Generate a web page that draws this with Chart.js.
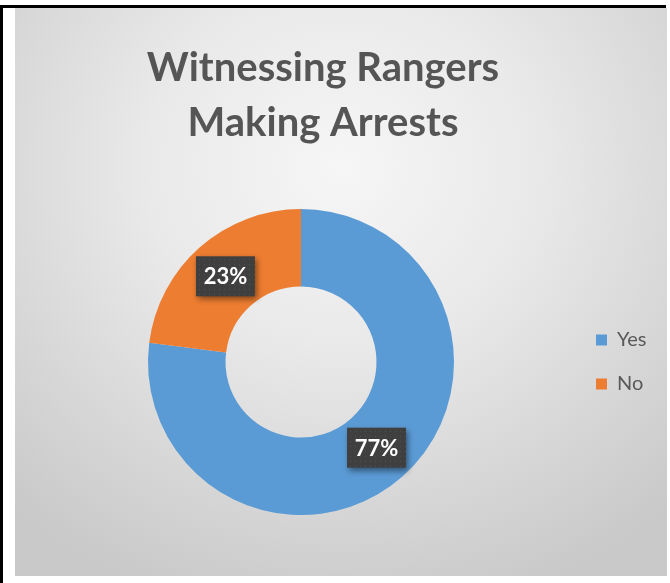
<!DOCTYPE html>
<html>
<head>
<meta charset="utf-8">
<script src="https://cdn.jsdelivr.net/npm/chart.js@4.4.1/dist/chart.umd.min.js"></script>
<style>
    html, body {
        margin: 0;
        padding: 0;
        background: #ffffff;
    }
    #frame {
        position: relative;
        width: 670px;
        height: 583px;
        overflow: hidden;
    }
    /* black frame lines on the left and top */
    #frame .edge-left {
        position: absolute;
        left: 0;
        top: 5px;
        width: 3px;
        height: 578px;
        background: #000;
    }
    #frame .edge-top {
        position: absolute;
        left: 0;
        top: 5px;
        width: 666px;
        height: 3px;
        background: #000;
    }
    #frame .panel {
        position: absolute;
        left: 15px;
        top: 8px;
        width: 652px;
        height: 568px;
        background: radial-gradient(ellipse 75% 80% at 50% 28%, #f6f6f6 0%, #e9e9e9 40%, #d6d6d6 75%, #c9c9c9 100%);
    }
    #chart {
        position: absolute;
        left: 0;
        top: 0;
    }
</style>
</head>
<body>
<div id="frame">
    <div class="panel"></div>
    <div class="edge-left"></div>
    <div class="edge-top"></div>
    <canvas id="chart" width="670" height="583"></canvas>
</div>
<script>
    const chartTitle = ["Witnessing Rangers", "Making Arrests"];
    const answerLabels = ["Yes", "No"];
    const answerShares = [77, 23];
    const answerColors = ["#5B9BD5", "#ED7D31"];

    // dark boxes with the percentage on each slice
    const sliceLabels = {
        id: "sliceLabels",
        afterDatasetsDraw(chart) {
            const ctx = chart.ctx;
            const meta = chart.getDatasetMeta(0);
            const data = chart.data.datasets[0].data;
            const total = data.reduce((a, b) => a + b, 0);
            meta.data.forEach((arc, i) => {
                const pos = arc.tooltipPosition();
                const text = Math.round((data[i] / total) * 100) + "%";
                const w = 59;
                const h = 40;
                ctx.save();
                ctx.shadowColor = "rgba(0, 0, 0, 0.45)";
                ctx.shadowBlur = 6;
                ctx.shadowOffsetX = 2;
                ctx.shadowOffsetY = 3;
                ctx.fillStyle = "#3f3f3f";
                ctx.fillRect(pos.x - w / 2, pos.y - h / 2, w, h);
                ctx.restore();

                // faint dot texture on the box
                ctx.save();
                ctx.fillStyle = "rgba(110, 110, 110, 0.5)";
                for (let dx = 3; dx < w; dx += 5) {
                    for (let dy = 3; dy < h; dy += 5) {
                        ctx.fillRect(pos.x - w / 2 + dx, pos.y - h / 2 + dy, 1, 1);
                    }
                }
                ctx.fillStyle = "#ffffff";
                ctx.font = "bold 22px Lato, 'Open Sans', sans-serif";
                ctx.textAlign = "center";
                ctx.textBaseline = "middle";
                ctx.fillText(text, pos.x, pos.y + 1);
                ctx.restore();
            });
        },
    };

    // the legend keeps a narrow slot in the layout; let it span the
    // chart area height and let the label text run past that slot
    const legendSpot = {
        id: "legendSpot",
        afterLayout(chart) {
            const legend = chart.legend;
            legend.top = chart.chartArea.top;
            legend.bottom = chart.chartArea.bottom;
            legend.right = chart.width;
        },
    };

    new Chart(document.getElementById("chart"), {
        type: "doughnut",
        data: {
            labels: answerLabels,
            datasets: [
                {
                    data: answerShares,
                    backgroundColor: answerColors,
                    borderWidth: 0,
                    radius: 153,
                    cutout: 75,
                },
            ],
        },
        options: {
            responsive: false,
            animation: false,
            layout: {
                padding: { left: 30, right: 54, top: 41, bottom: 69 },
            },
            plugins: {
                title: {
                    display: true,
                    text: chartTitle,
                    color: "#555555",
                    font: {
                        family: "Lato, 'Open Sans', sans-serif",
                        size: 40,
                        weight: "bold",
                        lineHeight: "55px",
                    },
                    padding: { top: 0, bottom: 59 },
                },
                legend: {
                    position: "right",
                    maxWidth: 44,
                    labels: {
                        boxWidth: 11,
                        boxHeight: 11,
                        padding: 24,
                        color: "#595959",
                        font: {
                            family: "Lato, 'Open Sans', sans-serif",
                            size: 20,
                        },
                    },
                },
                tooltip: { enabled: false },
            },
        },
        plugins: [sliceLabels, legendSpot],
    });
</script>
</body>
</html>
